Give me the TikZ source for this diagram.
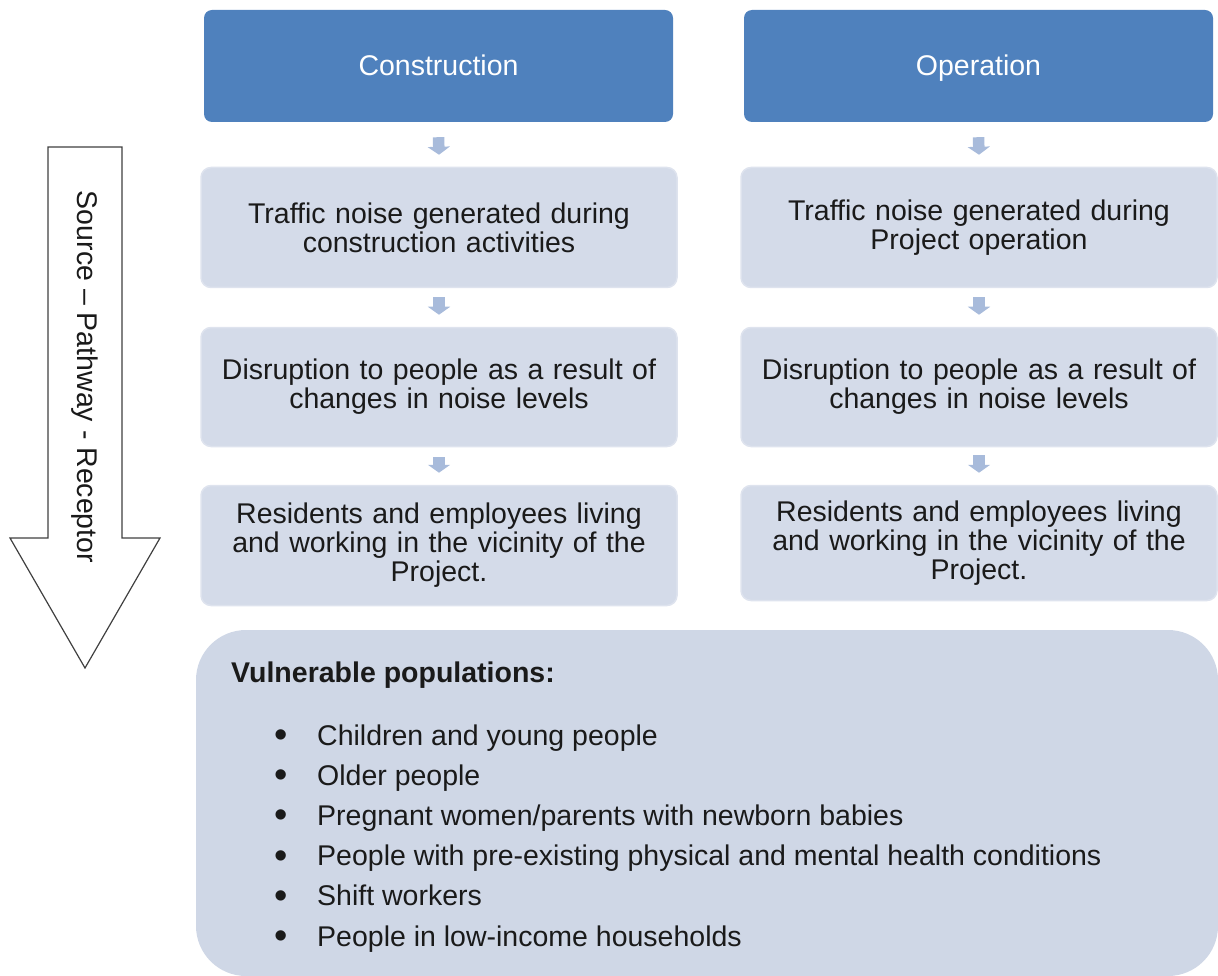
\documentclass[tikz,border=0pt]{standalone}
\usepackage{fontspec}
\setmainfont{Liberation Sans}
\usetikzlibrary{arrows.meta,calc}
\definecolor{hdr}{HTML}{4F81BD}
\definecolor{lbox}{HTML}{D4DBE9}
\definecolor{lboxedge}{HTML}{DEE3EE}
\definecolor{bbox}{HTML}{CFD7E6}
\definecolor{sarrow}{HTML}{A8BBDB}
\definecolor{txt}{HTML}{1A1A1A}
\definecolor{bigarrow}{HTML}{404040}
\newcommand{\bigbul}{\raisebox{-2.5pt}{\fontsize{38}{38}\selectfont\textbullet}}
\begin{document}
\begin{tikzpicture}[x=1pt,y=-1pt,
  every node/.style={font=\fontsize{28.5}{29}\selectfont, text=txt, inner sep=0pt},
  hdrbox/.style={fill=hdr, rounded corners=8pt, minimum width=469pt, minimum height=112pt, text=white, text height=22.5pt, text depth=3.5pt},
  lightbox/.style={fill=lbox, draw=lboxedge, line width=1.5pt, rounded corners=10pt, minimum width=476pt, text width=470pt, align=center},
  flowarrow/.style={draw=sarrow, line width=11.5pt, -{Triangle[width=22pt,length=8pt]}},
  bigbox/.style={fill=bbox, rounded corners=50pt, minimum width=1022pt, minimum height=346pt}
]
\useasboundingbox (0,0) rectangle (1218,976);

% big arrow
\draw[draw=bigarrow, line width=1.2pt, fill=white]
  (48,147) -- (122,147) -- (122,538) -- (160,538) -- (85,668) -- (10,538) -- (48,538) -- cycle;
\node[rotate=-90] (spr) at (85,377) {Source – Pathway - Receptor};

% left column
\node[hdrbox] (c0) at (438.5,66) {Construction};
\node[lightbox, minimum height=120pt] (c1) at (439,227.5) {Traffic noise generated during\\construction activities};
\node[lightbox, minimum height=119pt] (c2) at (439,387) {Disruption to people as a result of\\changes in noise levels};
\node[lightbox, minimum height=120pt] (c3) at (439,545.5) {Residents and employees living\\and working in the vicinity of the\\Project.};

% right column
\node[hdrbox] (o0) at (978.5,66) {Operation};
\node[lightbox, minimum height=120pt] (o1) at (979,227.5) {Traffic noise generated during\\Project operation};
\node[lightbox, minimum height=119pt] (o2) at (979,387) {Disruption to people as a result of\\changes in noise levels};
\node[lightbox, minimum height=115pt] (o3) at (979,543) {Residents and employees living\\and working in the vicinity of the\\Project.};

% small arrows
\draw[flowarrow] ($(c0.south)+(0,15)$) -- ($(c1.north)+(0,-12)$);
\draw[flowarrow] ($(c1.south)+(0,9)$) -- ($(c2.north)+(0,-12)$);
\draw[flowarrow] ($(c2.south)+(0,10)$) -- ($(c3.north)+(0,-12)$);
\draw[flowarrow] ($(o0.south)+(0,15)$) -- ($(o1.north)+(0,-12)$);
\draw[flowarrow] ($(o1.south)+(0,9)$) -- ($(o2.north)+(0,-12)$);
\draw[flowarrow] ($(o2.south)+(0,8)$) -- ($(o3.north)+(0,-12)$);

% bottom box
\node[bigbox] (v) at (707,803) {};
\node[anchor=base west, font=\fontsize{28.5}{29}\selectfont\bfseries] (vh) at (231,682) {Vulnerable populations:};
\node[anchor=base west, font=\fontsize{28.5}{40.2}\selectfont] (vl) at (274,745) {%
  \begin{tabular}[t]{@{}p{43pt}@{}l@{}}
  \bigbul & Children and young people\\
  \bigbul & Older people\\
  \bigbul & Pregnant women/parents with newborn babies\\
  \bigbul & People with pre-existing physical and mental health conditions\\
  \bigbul & Shift workers\\
  \bigbul & People in low-income households
  \end{tabular}};
\end{tikzpicture}
\end{document}
